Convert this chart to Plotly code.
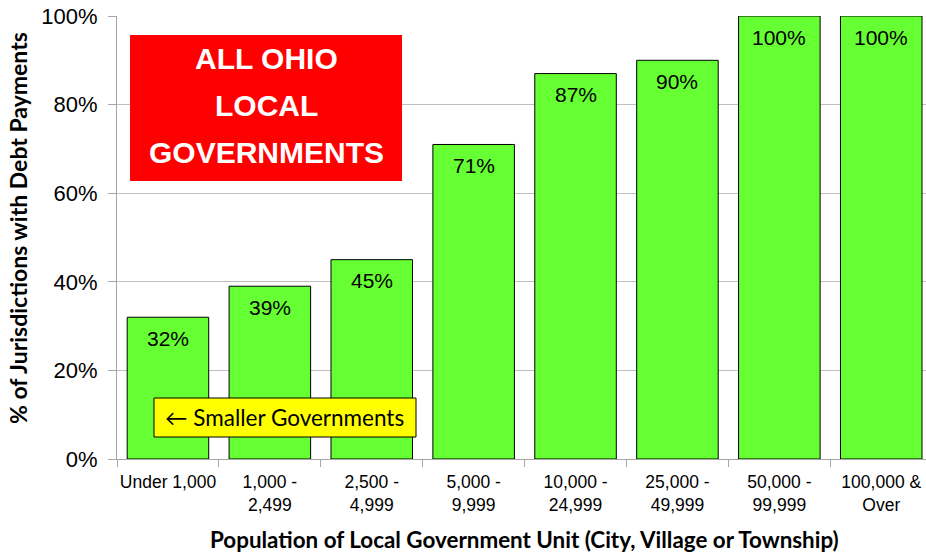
import plotly.graph_objects as go

categories = ["Under 1,000", "1,000 -<br>2,499", "2,500 -<br>4,999", "5,000 -<br>9,999",
              "10,000 -<br>24,999", "25,000 -<br>49,999", "50,000 -<br>99,999", "100,000 &<br>Over"]
values = [0.32, 0.39, 0.45, 0.71, 0.87, 0.90, 1.00, 1.00]
value_labels = ["32%", "39%", "45%", "71%", "87%", "90%", "100%", "100%"]
y_ticks = [0, 0.2, 0.4, 0.6, 0.8, 1.0]
y_tick_labels = ["0%", "20%", "40%", "60%", "80%", "100%"]

W, H = 926, 553
L, R, T, B = 117, 0, 16, 94
pw, ph = W - L - R, H - T - B

def px(x):
    return (x - L) / pw

def py(y):
    return (H - B - y) / ph

xs = list(range(len(categories)))

fig = go.Figure()
fig.add_trace(go.Bar(
    x=xs, y=values, width=0.8,
    marker=dict(color="#66FF33", line=dict(color="#000000", width=1)),
    hoverinfo="skip",
))

for x, v, lab in zip(xs, values, value_labels):
    fig.add_annotation(x=x, y=v, text=lab, showarrow=False, xref="x", yref="y",
                       yanchor="middle", yshift=-21,
                       font=dict(family="Liberation Sans, Arial", size=21, color="#000000"))

# red box
fig.add_shape(type="rect", xref="paper", yref="paper",
              x0=px(130), x1=px(402), y0=py(181), y1=py(35),
              fillcolor="#FF0000", line=dict(width=0), layer="above")
for line, ycen in [("ALL OHIO", 58), ("LOCAL", 106), ("GOVERNMENTS", 153)]:
    fig.add_annotation(x=px(266), y=py(ycen), xref="paper", yref="paper", text="<b>%s</b>" % line,
                       showarrow=False, xanchor="center", yanchor="middle",
                       font=dict(family="Liberation Sans, Arial", size=30, color="#FFFFFF"))

# yellow box
fig.add_shape(type="rect", xref="paper", yref="paper",
              x0=px(154), x1=px(416), y0=py(437), y1=py(398),
              fillcolor="#FFFF00", line=dict(color="#000000", width=1), layer="above")
fig.add_annotation(x=px(284), y=py(417), xref="paper", yref="paper", text="\u2190 Smaller Governments",
                   showarrow=False, xanchor="center", yanchor="middle",
                   font=dict(family="Lato, Open Sans", size=22.5, color="#000000"))

# axis titles
fig.add_annotation(x=px(18), y=py(228), xref="paper", yref="paper",
                   text="<b>% of Jurisdictions with Debt Payments</b>", textangle=-90,
                   showarrow=False, xanchor="center", yanchor="middle",
                   font=dict(family="Lato, Open Sans", size=23, color="#000000"))
fig.add_annotation(x=px(524), y=py(539), xref="paper", yref="paper",
                   text="<b>Population of Local Government Unit (City, Village or Township)</b>",
                   showarrow=False, xanchor="center", yanchor="middle",
                   font=dict(family="Lato, Open Sans", size=22.4, color="#000000"))

fig.update_layout(
    width=W, height=H,
    margin=dict(l=L, r=R, t=T, b=B, pad=0),
    paper_bgcolor="#FFFFFF", plot_bgcolor="#FFFFFF",
    showlegend=False,
    bargap=0.2,
)
fig.update_xaxes(
    range=[-0.5, -0.5 + pw / 101.9], tickvals=xs, ticktext=categories,
    ticks="", showgrid=False, zeroline=False, ticklabelstandoff=7,
    showline=True, linecolor="#A6A6A6", linewidth=1,
    ticklabeloverflow="allow",
    tickfont=dict(family="Liberation Sans, Arial", size=17.5, color="#000000"),
    minor=dict(tick0=0.5, dtick=1, ticks="outside", ticklen=7, tickcolor="#A6A6A6", showgrid=False),
)
fig.update_yaxes(
    range=[0, 1], tickvals=y_ticks, ticktext=y_tick_labels,
    ticks="outside", ticklen=8, tickcolor="#A6A6A6", ticklabelstandoff=6,
    showgrid=True, gridcolor="#BFBFBF", gridwidth=1, zeroline=False,
    showline=True, linecolor="#A6A6A6", linewidth=1,
    ticklabeloverflow="allow",
    tickfont=dict(family="Liberation Sans, Arial", size=22, color="#000000"),
)

fig.write_html("out.html", config={"displayModeBar": False},
               post_script="document.body.style.margin='0';")
